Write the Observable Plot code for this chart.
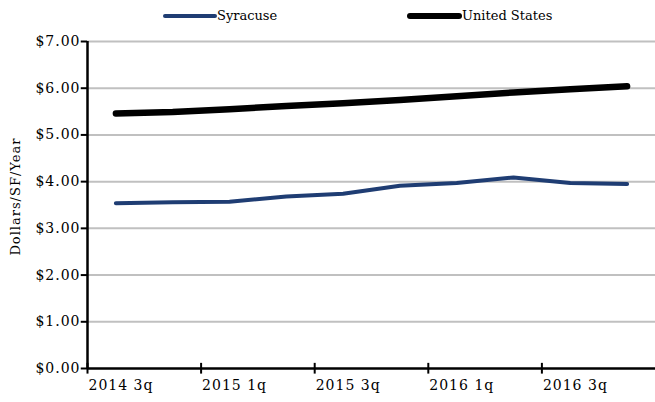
<!DOCTYPE html>
<html>
<head>
<meta charset="utf-8">
<script src="https://cdn.jsdelivr.net/npm/d3@7"></script>
<script src="https://cdn.jsdelivr.net/npm/@observablehq/plot@0.6"></script>
<style>
  html, body { margin: 0; padding: 0; background: #fff; }
  #wrap { width: 655px; position: relative; font-family: "DejaVu Serif", serif; }
  #legend { position: relative; height: 28px; font-size: 13px; color: #000; }
  .item { position: absolute; top: 8px; display: flex; align-items: center; }
  .swatch { height: 0; border-radius: 4px; }
</style>
</head>
<body>
<div id="wrap">
  <div id="legend">
    <div class="item" style="left:163px"><span class="swatch" style="width:54px;border-top:4px solid #1f3d73"></span><span>Syracuse</span></div>
    <div class="item" style="left:407px"><span class="swatch" style="width:55px;border-top:6px solid #000"></span><span>United States</span></div>
  </div>
  <div id="chart"></div>
</div>
<script>
// Quarterly asking rent, dollars per square foot per year
const quarters = ["2014 3q", "2014 4q", "2015 1q", "2015 2q", "2015 3q", "2015 4q", "2016 1q", "2016 2q", "2016 3q", "2016 4q"];
const syracuse = [3.54, 3.56, 3.57, 3.68, 3.74, 3.91, 3.97, 4.09, 3.97, 3.95];
const unitedStates = [5.46, 5.49, 5.55, 5.62, 5.68, 5.75, 5.83, 5.91, 5.98, 6.04];
const yTicks = [0, 1, 2, 3, 4, 5, 6, 7];
const xTickLabels = ["2014 3q", "2015 1q", "2015 3q", "2016 1q", "2016 3q"];

const rows = quarters.flatMap((q, i) => [
  {i, quarter: q, series: "Syracuse", value: syracuse[i]},
  {i, quarter: q, series: "United States", value: unitedStates[i]}
]);

// category boundaries sit half a step before each labelled quarter
const xTicks = xTickLabels.map(l => quarters.indexOf(l) - 0.5);
const left = -0.5;

const chart = Plot.plot({
  width: 655,
  height: 374,
  marginLeft: 87,
  marginRight: 0,
  marginTop: 13,
  marginBottom: 34,
  x: {domain: [-0.5, quarters.length - 0.5], axis: null},
  y: {domain: [0, 7], axis: null},
  style: {fontFamily: "DejaVu Serif", fontSize: "14px", letterSpacing: "1px", color: "#000", background: "#fff", overflow: "visible"},
  marks: [
    Plot.ruleY(yTicks.filter(d => d > 0), {y: d => d, stroke: "#c0c0c0", strokeWidth: 2}),
    // y axis
    Plot.ruleY(yTicks, {y: d => d, x1: left - 0.11, x2: left, stroke: "#000", strokeWidth: 2}),
    Plot.text(yTicks, {x: left, y: d => d, text: d => d3.format("$.2f")(d), textAnchor: "end", dx: -7, fill: "#000"}),
    Plot.ruleX([left], {y1: 0, y2: 7, stroke: "#000", strokeWidth: 2.5}),
    // x axis
    Plot.ruleX(xTicks, {x: d => d, y1: -0.12, y2: 0.11, stroke: "#000", strokeWidth: 2}),
    Plot.ruleY([0], {stroke: "#000", strokeWidth: 2.5}),
    Plot.text(xTickLabels, {x: (d, k) => xTicks[k], y: 0, text: d => d, textAnchor: "start", dx: 1, dy: 17, fill: "#000"}),
    Plot.text(["Dollars/SF/Year"], {x: left, y: 3.68, rotate: -90, dx: -72, fill: "#000", fontSize: 13, letterSpacing: "0.4px"}),
    // series
    Plot.line(rows.filter(d => d.series === "Syracuse"), {x: "i", y: "value", stroke: "#1f3d73", strokeWidth: 4, strokeLinecap: "round", strokeLinejoin: "round"}),
    Plot.line(rows.filter(d => d.series === "United States"), {x: "i", y: "value", stroke: "#000", strokeWidth: 6.5, strokeLinecap: "round", strokeLinejoin: "round"})
  ]
});
document.getElementById("chart").appendChild(chart);
</script>
</body>
</html>
